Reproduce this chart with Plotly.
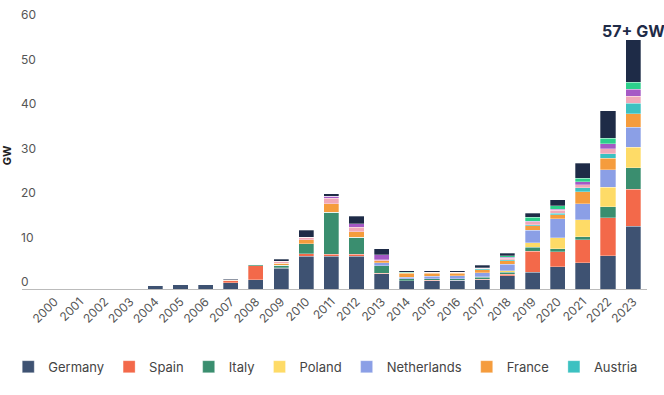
import plotly.graph_objects as go

years = ["2000", "2001", "2002", "2003", "2004", "2005", "2006", "2007", "2008", "2009",
         "2010", "2011", "2012", "2013", "2014", "2015", "2016", "2017", "2018", "2019",
         "2020", "2021", "2022", "2023"]

germany     = [0, 0, 0, 0, 0.8, 1.0, 1.0, 1.4, 2.1, 4.7, 7.4, 7.35, 7.35, 3.4, 1.9, 1.9, 1.95, 2.1, 3.0, 3.8, 5.0, 5.9, 7.45, 14.1]
spain       = [0, 0, 0, 0, 0, 0, 0, 0.45, 3.1, 0.1, 0.5, 0.5, 0.5, 0.1, 0, 0.05, 0, 0.1, 0.3, 4.7, 3.4, 5.2, 8.6, 8.3]
italy       = [0, 0, 0, 0, 0, 0, 0, 0.05, 0.35, 0.5, 2.25, 9.4, 3.75, 1.75, 0.4, 0.4, 0.4, 0.4, 0.5, 0.9, 0.6, 0.6, 2.4, 4.9]
poland      = [0, 0, 0, 0, 0, 0, 0, 0, 0, 0, 0, 0, 0, 0, 0, 0, 0, 0.1, 0.3, 1.0, 2.5, 3.9, 4.4, 4.6]
netherlands = [0, 0, 0, 0, 0, 0, 0, 0, 0, 0, 0, 0, 0, 0.6, 0.3, 0.5, 0.6, 0.9, 1.5, 2.8, 4.3, 3.6, 4.0, 4.5]
france      = [0, 0, 0, 0, 0, 0, 0, 0.1, 0.05, 0.45, 0.9, 1.9, 1.3, 0.45, 0.9, 0.7, 0.6, 0.75, 0.8, 1.0, 0.9, 2.6, 2.5, 3.0]
austria     = [0, 0, 0, 0, 0, 0, 0, 0, 0, 0, 0, 0, 0, 0, 0.1, 0.1, 0.1, 0.15, 0.2, 0.25, 0.3, 0.9, 1.05, 2.3]
other_pink  = [0, 0, 0, 0, 0, 0, 0, 0.1, 0, 0.45, 0.6, 1.25, 1.0, 0.3, 0.1, 0.1, 0.1, 0.2, 0.35, 0.7, 0.7, 0.77, 1.1, 1.65]
other_purple= [0, 0, 0, 0, 0, 0, 0, 0, 0, 0, 0, 0.4, 0.75, 1.05, 0, 0, 0, 0, 0.2, 0.1, 0.2, 0.6, 1.1, 1.5]
other_green = [0, 0, 0, 0, 0, 0, 0, 0, 0, 0, 0, 0, 0, 0, 0.1, 0, 0, 0.1, 0.35, 0.85, 0.8, 0.77, 1.3, 1.65]
rest        = [0, 0, 0, 0, 0, 0, 0, 0.1, 0.1, 0.45, 1.6, 0.6, 1.7, 1.35, 0.3, 0.4, 0.4, 0.5, 0.5, 0.9, 1.4, 3.4, 6.2, 9.5]

series = [
    ("Germany", germany, "#3e5272", True),
    ("Spain", spain, "#f3694a", True),
    ("Italy", italy, "#3a8e6f", True),
    ("Poland", poland, "#fedb67", True),
    ("Netherlands", netherlands, "#8b9fe6", True),
    ("France", france, "#f59c3d", True),
    ("Austria", austria, "#3cc1c1", True),
    ("Other (pink)", other_pink, "#f1a8b8", False),
    ("Other (purple)", other_purple, "#a559c5", False),
    ("Other (green)", other_green, "#2dd08c", False),
    ("Rest", rest, "#1e2b47", False),
]

fig = go.Figure()
for name, vals, color, show in series:
    fig.add_trace(go.Bar(
        x=years, y=vals, name=name, showlegend=show,
        marker=dict(color=color, line=dict(color="rgba(255,255,255,0.6)", width=0.5)),
    ))

last = len(years) - 1
total_last = sum(s[1][last] for s in series)
fig.add_annotation(
    x=last, y=total_last, text="<b>57+ GW</b>", showarrow=False,
    xref="x", yref="y",
    yanchor="bottom", yshift=-3, xanchor="center",
    font=dict(family="Inter", size=16, color="#1e2b47"),
)

fig.update_layout(
    barmode="stack",
    bargap=0.4,
    width=664, height=395,
    margin=dict(l=22, r=17, t=22, b=106, autoexpand=False),
    paper_bgcolor="white", plot_bgcolor="white",
    font=dict(family="Inter", color="#555555"),
    legend=dict(
        orientation="h", x=-0.022, xanchor="left", y=-0.235, yanchor="top",
        font=dict(family="Inter", size=13, color="#444444"),
        traceorder="normal",
    ),
    xaxis=dict(
        type="category", range=[-1.3, 23.55], tickangle=-45, automargin=False,
        showgrid=False, showline=True, linecolor="#bbbbbb", linewidth=1,
        ticks="", tickfont=dict(family="Inter", size=12, color="#555555"),
    ),
    yaxis=dict(
        range=[0, 60], tickvals=[0, 10, 20, 30, 40, 50, 60], automargin=False,
        showgrid=False, zeroline=False, showline=False, ticks="",
        ticklabelposition="inside", ticklabelshift=-7, ticklabelstandoff=-4,
        ticklabeloverflow="allow",
        tickfont=dict(family="Inter", size=12, color="#555555"),
        title=dict(text="<b>GW</b>", standoff=8, font=dict(family="Inter", size=11, color="#222222")),
    ),
)

fig.write_html("out.html", config={"displayModeBar": False},
               post_script="document.body.style.margin='0px';")
